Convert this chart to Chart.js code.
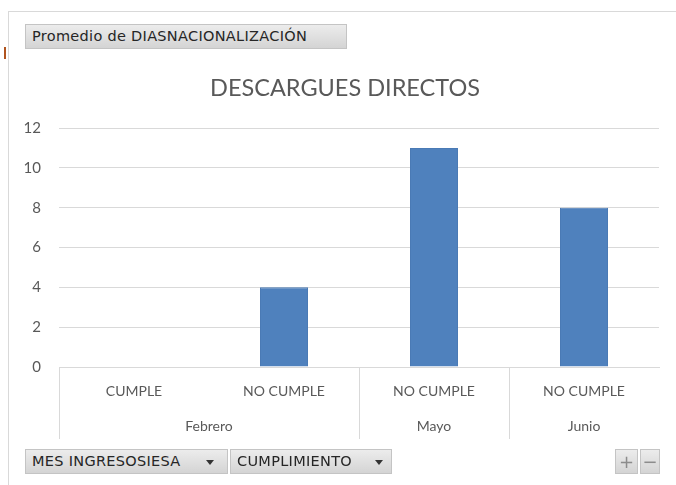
<!DOCTYPE html>
<html>
<head>
<meta charset="utf-8">
<script src="https://cdn.jsdelivr.net/npm/chart.js@4.4.0/dist/chart.umd.min.js"></script>
<style>
    html, body { margin: 0; padding: 0; background: #fff; }
    #wrap { position: relative; width: 676px; height: 485px; overflow: hidden; }
    #frame { position: absolute; left: 8px; top: 11px; right: -2px; bottom: -2px; border: 1px solid #d9d9d9; }
    #mark { position: absolute; left: 4px; top: 47px; width: 2px; height: 12px; background: #b0531e; }
    .btn {
        position: absolute; box-sizing: border-box; height: 25px;
        background: linear-gradient(#ececec, #d4d4d4); border: 1px solid #c4c4c4;
        font-family: "DejaVu Sans", sans-serif; font-size: 14.5px; color: #262626;
        line-height: 23px; padding-left: 6px; white-space: nowrap; letter-spacing: 0.3px;
    }
    .arrow { position: absolute; top: 10px; width: 0; height: 0;
        border-left: 4px solid transparent; border-right: 4px solid transparent; border-top: 5px solid #333; }
    .pm { text-align: center; padding: 0; font-size: 18px; color: #8c8c8c; letter-spacing: 0; }
    canvas { position: absolute; left: 0; top: 0; }
</style>
</head>
<body>
<div id="wrap">
    <canvas id="chart" width="676" height="485"></canvas>
    <div id="frame"></div>
    <div id="mark"></div>
    <div class="btn" style="left:25px; top:24px; width:322px;">Promedio de DIASNACIONALIZACIÓN</div>
    <div class="btn" style="left:25px; top:449px; width:203px;">MES INGRESOSIESA<span class="arrow" style="left:180px"></span></div>
    <div class="btn" style="left:230px; top:449px; width:162px;">CUMPLIMIENTO<span class="arrow" style="left:144px"></span></div>
    <div class="btn pm" style="left:615px; top:449px; width:23px;">+</div>
    <div class="btn pm" style="left:640px; top:449px; width:20px;">−</div>
</div>
<script>
const meses = ['Febrero', 'Febrero', 'Mayo', 'Junio'];
const cumplimiento = ['CUMPLE', 'NO CUMPLE', 'NO CUMPLE', 'NO CUMPLE'];
const promedioDias = [null, 4, 11, 8];
const yMax = 12;
const yStep = 2;
const chartTitle = 'DESCARGUES DIRECTOS';

const textColor = '#595959';
const gridColor = '#d9d9d9';
const font = 'Lato, "Open Sans", sans-serif';

// draws title + two-level category labels (month groups)
const groupLabels = {
    id: 'groupLabels',
    afterDraw(chart) {
        const { ctx, scales: { x } } = chart;
        ctx.save();
        ctx.fillStyle = textColor;
        ctx.textAlign = 'center';
        ctx.textBaseline = 'middle';

        ctx.font = '23.5px ' + font;
        ctx.fillText(chartTitle, 345, 88);

        ctx.font = '14px ' + font;
        cumplimiento.forEach((c, i) => {
            ctx.fillText(c, x.getPixelForValue(i), x.top + 24);
        });

        // group consecutive months
        let start = 0;
        for (let i = 1; i <= meses.length; i++) {
            if (i === meses.length || meses[i] !== meses[start]) {
                const mid = (x.getPixelForValue(start) + x.getPixelForValue(i - 1)) / 2;
                ctx.fillText(meses[start], mid, x.top + 59);
                start = i;
            }
        }
        ctx.restore();
    }
};

// boundary lines only where month changes (plus outer edges)
function boundaryColor(ctx) {
    const i = ctx.index;
    if (i === 0 || i === meses.length) return gridColor;
    return meses[i] !== meses[i - 1] ? gridColor : 'rgba(0,0,0,0)';
}

new Chart(document.getElementById('chart'), {
    type: 'bar',
    data: {
        labels: cumplimiento.map((c, i) => meses[i] + ' ' + c),
        datasets: [{
            label: 'Promedio de DIASNACIONALIZACIÓN',
            data: promedioDias,
            backgroundColor: '#4f81bd',
            borderColor: '#4a7ab5',
            borderWidth: 1,
            categoryPercentage: 1,
            barPercentage: 0.32
        }]
    },
    options: {
        responsive: false,
        animation: false,
        layout: { padding: { top: 128, left: 8, right: 17, bottom: 46 } },
        plugins: {
            legend: { display: false },
            title: { display: false },
            tooltip: { enabled: false }
        },
        scales: {
            x: {
                grid: {
                    offset: true,
                    drawOnChartArea: false,
                    drawTicks: true,
                    tickLength: 72,
                    color: boundaryColor
                },
                border: { color: gridColor },
                ticks: { display: false }
            },
            y: {
                min: 0,
                max: yMax,
                afterFit(scale) { scale.width = 51; },
                grid: { color: gridColor, drawTicks: false },
                border: { display: false },
                ticks: {
                    stepSize: yStep,
                    padding: 18,
                    color: textColor,
                    font: { family: font, size: 15 }
                }
            }
        }
    },
    plugins: [groupLabels]
});
</script>
</body>
</html>
